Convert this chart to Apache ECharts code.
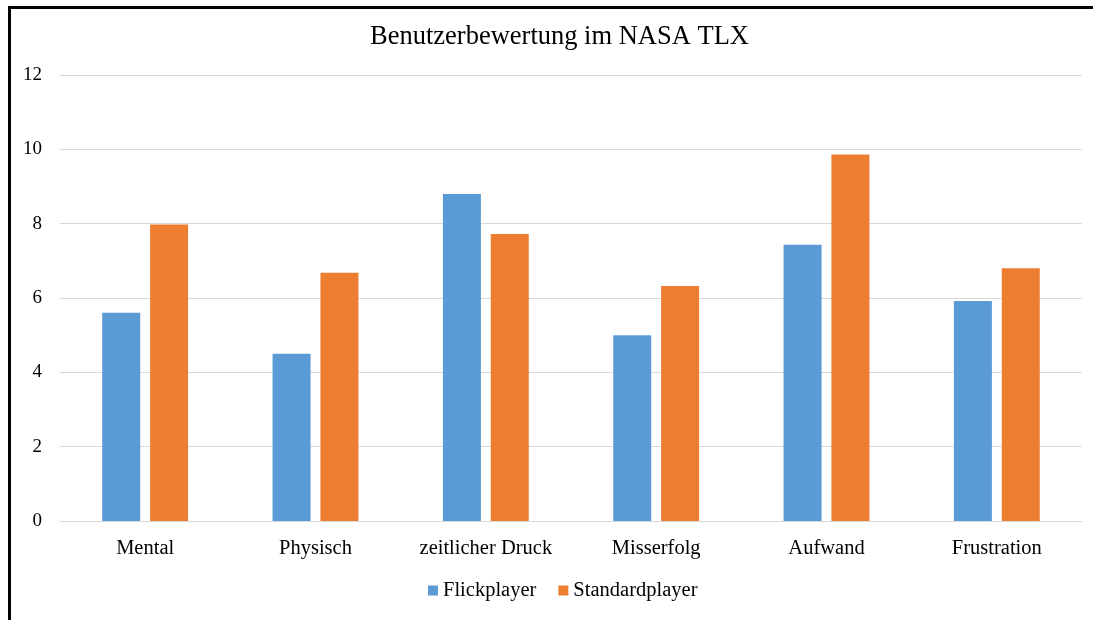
<!DOCTYPE html>
<html>
<head>
<meta charset="utf-8">
<script src="https://cdn.jsdelivr.net/npm/echarts@6/dist/echarts.min.js"></script>
<style>
  html, body { margin: 0; padding: 0; background: #fff; }
  #frame { position: absolute; left: 8px; top: 6px; width: 1100px; height: 620px;
           border-left: 3px solid #000; border-top: 3px solid #000; }
  #chart { position: absolute; left: 0; top: 0; width: 1093px; height: 620px; }
</style>
</head>
<body>
<div id="frame"></div>
<div id="chart"></div>
<script>
const categories = ['Mental', 'Physisch', 'zeitlicher Druck', 'Misserfolg', 'Aufwand', 'Frustration']
const flickplayer = [5.6, 4.5, 8.8, 5.0, 7.43, 5.92]
const standardplayer = [7.98, 6.68, 7.72, 6.32, 9.86, 6.8]

const serif = '"Liberation Serif", "DejaVu Serif", serif'
const chart = echarts.init(document.getElementById('chart'))

chart.setOption({
  animation: false,
  title: {
    text: 'Benutzerbewertung im NASA TLX',
    left: 365,
    top: 19,
    textStyle: { fontFamily: serif, fontSize: 26.5, fontWeight: 'normal', color: '#000' }
  },
  legend: {
    bottom: 14,
    left: 423,
    itemWidth: 10,
    itemHeight: 10,
    itemGap: 22,
    icon: 'rect',
    textStyle: { fontFamily: serif, fontSize: 20.5, color: '#000' },
    data: ['Flickplayer', 'Standardplayer']
  },
  grid: { left: 60, right: 11, top: 75, bottom: 99, containLabel: false },
  xAxis: {
    type: 'category',
    data: categories,
    axisTick: { show: false },
    axisLine: { lineStyle: { color: '#d9d9d9', width: 1 } },
    axisLabel: { interval: 0, fontFamily: serif, fontSize: 20.5, color: '#000', margin: 17 }
  },
  yAxis: {
    type: 'value',
    min: 0,
    max: 12,
    interval: 2,
    axisLine: { show: false },
    axisTick: { show: false },
    splitLine: { lineStyle: { color: '#d9d9d9', width: 1 } },
    axisLabel: { fontFamily: serif, fontSize: 19, color: '#000', margin: 18 }
  },
  series: [
    {
      name: 'Flickplayer',
      type: 'bar',
      data: flickplayer,
      barWidth: 38,
      barGap: '26%',
      itemStyle: { color: '#5B9BD5' }
    },
    {
      name: 'Standardplayer',
      type: 'bar',
      data: standardplayer,
      barWidth: 38,
      itemStyle: { color: '#ED7D31' }
    }
  ]
})
</script>
</body>
</html>
